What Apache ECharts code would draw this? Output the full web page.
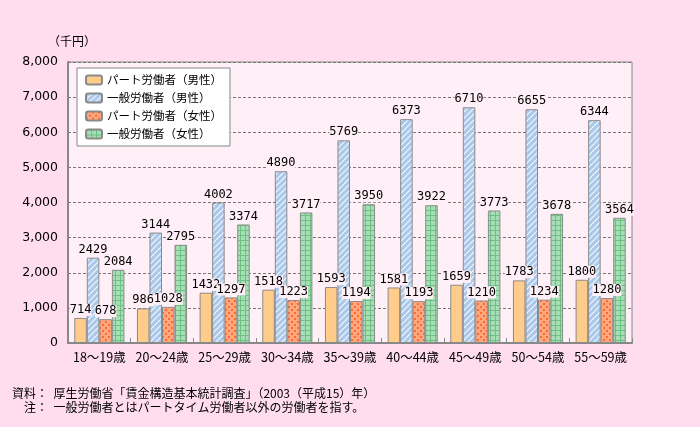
<!DOCTYPE html>
<html><head><meta charset="utf-8">
<script src="https://cdn.jsdelivr.net/npm/echarts@6/dist/echarts.min.js"></script>
<style>html,body{margin:0;padding:0;background:#FFDDEE;}#c{width:700px;height:427px;}</style>
</head><body><div id="c"></div>
<script>
var categories = ['18～19歳','20～24歳','25～29歳','30～34歳','35～39歳','40～44歳','45～49歳','50～54歳','55～59歳'];
var seriesNames = ['パート労働者（男性）','一般労働者（男性）','パート労働者（女性）','一般労働者（女性）'];
var partMale = [714,986,1432,1518,1593,1581,1659,1783,1800];
var fullMale = [2429,3144,4002,4890,5769,6373,6710,6655,6344];
var partFemale = [678,1028,1297,1223,1194,1193,1210,1234,1280];
var fullFemale = [2084,2795,3374,3717,3950,3922,3773,3678,3564];
var yTicks = [0,1000,2000,3000,4000,5000,6000,7000,8000];

function mk(w,h,draw){var c=document.createElement('canvas');c.width=w;c.height=h;var g=c.getContext('2d');draw(g);return c;}
var stripe = mk(6,6,function(g){g.fillStyle='#ABC8E8';g.fillRect(0,0,6,6);g.strokeStyle='#F2F7FF';g.lineWidth=1.2;
  g.beginPath();g.moveTo(0,6);g.lineTo(6,0);g.moveTo(-3,3);g.lineTo(3,-3);g.moveTo(3,9);g.lineTo(9,3);g.stroke();});
var dots2 = mk(6,6,function(g){g.fillStyle='#FFA880';g.fillRect(0,0,6,6);g.fillStyle='#FF6A2A';g.fillRect(0,0,2,2);g.fillRect(3,3,2,2);});
var grid = mk(5,5,function(g){g.fillStyle='#A8DEB5';g.fillRect(0,0,5,5);g.fillStyle='#6CC083';g.fillRect(0,0,5,1);g.fillRect(0,0,1,5);});

var fills = ['#FFCC8C',{image:stripe,repeat:'repeat'},{image:dots2,repeat:'repeat'},{image:grid,repeat:'repeat'}];
var dataArr = [partMale,fullMale,partFemale,fullFemale];

var chart = echarts.init(document.getElementById('c'));
var series = dataArr.map(function(d,i){return {
  name: seriesNames[i], type:'bar', data:d, barGap:'0%', barCategoryGap:'20%',
  itemStyle:{color:fills[i], borderColor:'#8A8A8A', borderWidth:1},
  label:{show:true, position:'top', distance:2, color:'#000', fontSize:12, fontFamily:'DejaVu Sans Mono, monospace',
    backgroundColor:'#FFF0F7', padding:[0,0]}
};});
chart.setOption({
  animation:false,
  backgroundColor:'#FFDDEE',
  grid:{left:68,right:68,top:62,bottom:84,show:true,backgroundColor:'#FFF0F7',borderColor:'#888',borderWidth:1},
  legend:{left:77,top:68,orient:'vertical',itemWidth:16,itemHeight:9,itemGap:4,
    backgroundColor:'#FFFFFF',borderColor:'#888',borderWidth:1,padding:[5,8,5,8],
    textStyle:{fontSize:11.5,lineHeight:14,color:'#000',fontFamily:'Noto Sans CJK JP'},
    data:seriesNames},
  xAxis:{type:'category',data:categories,
    axisLine:{lineStyle:{color:'#888',width:2}},
    axisTick:{show:true,inside:true,length:5,lineStyle:{color:'#888'}},
    axisLabel:{interval:0,color:'#000',fontSize:12.5,margin:8,fontFamily:'Noto Sans CJK JP'}},
  yAxis:{type:'value',min:yTicks[0],max:yTicks[yTicks.length-1],interval:1000,
    axisLine:{show:true,lineStyle:{color:'#888',width:2}},
    axisTick:{show:false},
    splitLine:{lineStyle:{color:'#777',type:[3,2],width:1}},
    axisLabel:{color:'#000',fontSize:12.5,margin:10,fontFamily:'DejaVu Sans',
      formatter:function(v){return v.toLocaleString('en-US');}}},
  graphic:[
    {type:'text',left:48,top:35,style:{text:'（千円）',fontSize:12,fill:'#000',fontFamily:'Noto Sans CJK JP'}},
    {type:'text',left:12,top:387,style:{text:'資料：  厚生労働省「賃金構造基本統計調査」（2003（平成15）年）',fontSize:12,fill:'#000',fontFamily:'Noto Sans CJK JP'}},
    {type:'text',left:24,top:401,style:{text:'注：  一般労働者とはパートタイム労働者以外の労働者を指す。',fontSize:12,fill:'#000',fontFamily:'Noto Sans CJK JP'}}
  ],
  series:series
});
</script></body></html>
